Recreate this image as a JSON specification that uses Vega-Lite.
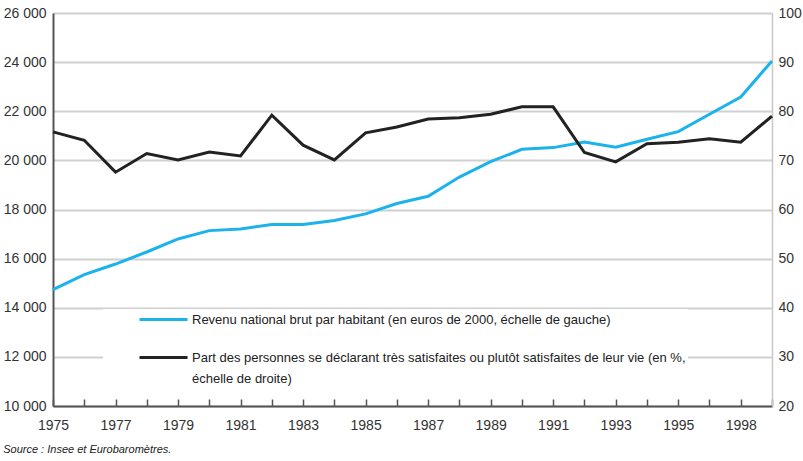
{
  "$schema": "https://vega.github.io/schema/vega-lite/v6.json",
  "width": 719,
  "height": 393,
  "autosize": {"type": "none"},
  "padding": {"left": 53, "top": 13, "right": 31, "bottom": 55},
  "background": "white",
  "config": {"font": "Liberation Sans", "view": {"stroke": null}, "style": {"guide-label": {"lineHeight": 21}}},
  "title": {"text": "Source : Insee et Eurobaromètres.", "orient": "bottom", "anchor": "start", "frame": "bounds", "font": "Liberation Sans", "fontStyle": "italic", "fontWeight": "normal", "fontSize": 11, "color": "#222", "offset": 12},
  "data": {"values": [
    {"annee": 1975, "revenu": 14735, "satisfaction": 75.8},
    {"annee": 1976, "revenu": 15350, "satisfaction": 74.1},
    {"annee": 1977, "revenu": 15780, "satisfaction": 67.6},
    {"annee": 1978, "revenu": 16270, "satisfaction": 71.4},
    {"annee": 1979, "revenu": 16800, "satisfaction": 70.1},
    {"annee": 1980, "revenu": 17140, "satisfaction": 71.7},
    {"annee": 1981, "revenu": 17210, "satisfaction": 70.9},
    {"annee": 1982, "revenu": 17390, "satisfaction": 79.2},
    {"annee": 1983, "revenu": 17390, "satisfaction": 73.1},
    {"annee": 1984, "revenu": 17550, "satisfaction": 70.1},
    {"annee": 1985, "revenu": 17820, "satisfaction": 75.6},
    {"annee": 1986, "revenu": 18245, "satisfaction": 76.8},
    {"annee": 1987, "revenu": 18540, "satisfaction": 78.4},
    {"annee": 1988, "revenu": 19320, "satisfaction": 78.7},
    {"annee": 1989, "revenu": 19950, "satisfaction": 79.4},
    {"annee": 1990, "revenu": 20450, "satisfaction": 80.9},
    {"annee": 1991, "revenu": 20520, "satisfaction": 80.9},
    {"annee": 1992, "revenu": 20750, "satisfaction": 71.6},
    {"annee": 1993, "revenu": 20540, "satisfaction": 69.7},
    {"annee": 1994, "revenu": 20860, "satisfaction": 73.4},
    {"annee": 1995, "revenu": 21170, "satisfaction": 73.7},
    {"annee": 1996, "revenu": 21880, "satisfaction": 74.4},
    {"annee": 1997, "revenu": 22580, "satisfaction": 73.7},
    {"annee": 1998, "revenu": 24050, "satisfaction": 79.0}
  ]},
  "encoding": {
    "x": {
      "field": "annee", "type": "quantitative",
      "scale": {"domain": [1975, 1998], "nice": false, "zero": false},
      "axis": {
        "title": null,
        "values": [1975,1976,1977,1978,1979,1980,1981,1982,1983,1984,1985,1986,1987,1988,1989,1990,1991,1992,1993,1994,1995,1996,1997,1998],
        "labelExpr": "datum.value == 1997 ? '1998' : ((datum.value % 2 == 1 && datum.value <= 1995) ? ('' + datum.value) : '')",
        "labelOverlap": false, "labelFlush": false,
        "labelFontSize": 14, "labelColor": "#333", "labelPadding": 19,
        "domainColor": "#555", "domainWidth": 2,
        "tickColor": "#555", "tickSize": -7, "tickWidth": 1.5,
        "grid": false
      }
    }
  },
  "layer": [
    {
      "mark": {"type": "line", "strokeWidth": 3},
      "encoding": {
        "y": {
          "field": "revenu", "type": "quantitative",
          "scale": {"domain": [10000, 26000], "nice": false, "zero": false},
          "axis": {
            "title": null, "orient": "left",
            "values": [10000,12000,14000,16000,18000,20000,22000,24000,26000],
            "labelExpr": "replace(format(datum.value, ','), ',', ' ')",
            "labelFontSize": 14, "labelColor": "#333", "labelPadding": 7,
            "domainColor": "#555", "domainWidth": 2,
            "ticks": false,
            "grid": true, "gridColor": "#d0d0d0", "gridWidth": 2
          }
        },
        "color": {
          "datum": "rev", "type": "nominal",
          "scale": {"domain": ["rev", "sat"], "range": ["#1cb2ec", "#222222"]},
          "legend": {
            "title": null, "orient": "none", "legendX": 50, "legendY": 296,
            "fillColor": "white", "padding": 2,
            "symbolType": "M-3.43,0L3.43,0", "symbolStrokeWidth": 3, "symbolSize": 196,
            "symbolOffset": 50, "labelOffset": 20,
            "labelFontSize": 13, "labelColor": "#222", "labelLimit": 700,
            "rowPadding": 22,
            "labelExpr": "datum.value == 'rev' ? 'Revenu national brut par habitant (en euros de 2000, échelle de gauche)' : ['Part des personnes se déclarant très satisfaites ou plutôt satisfaites de leur vie (en %,', 'échelle de droite)']"
          }
        }
      }
    },
    {
      "mark": {"type": "line", "strokeWidth": 3},
      "encoding": {
        "y": {
          "field": "satisfaction", "type": "quantitative",
          "scale": {"domain": [20, 100], "nice": false, "zero": false},
          "axis": {
            "title": null, "orient": "right",
            "values": [20,30,40,50,60,70,80,90,100],
            "labelFontSize": 14, "labelColor": "#333", "labelPadding": 6,
            "domainColor": "#c8c8c8", "domainWidth": 1.5,
            "ticks": false, "grid": false
          }
        },
        "color": {"datum": "sat", "type": "nominal"}
      }
    }
  ],
  "resolve": {"scale": {"y": "independent"}}
}
